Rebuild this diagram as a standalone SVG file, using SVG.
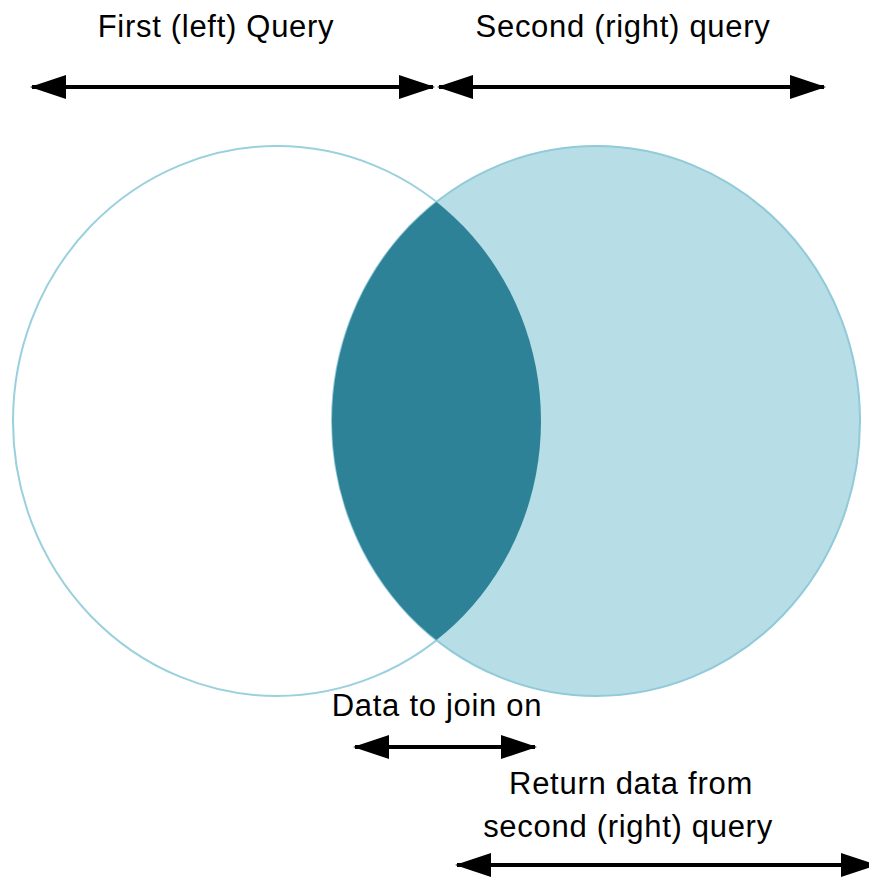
<svg xmlns="http://www.w3.org/2000/svg" width="869" height="877" viewBox="0 0 869 877">
<style>
.lbl{font-family:"Liberation Sans",Arial,sans-serif;font-size:31px;letter-spacing:0.7px;fill:#000;text-anchor:middle}
.arr{stroke:#000;stroke-width:4;fill:none;marker-start:url(#ah);marker-end:url(#ah)}
</style>
<defs>
<marker id="ah" markerUnits="userSpaceOnUse" viewBox="0 0 36 24" refX="34" refY="12" markerWidth="36" markerHeight="24" orient="auto-start-reverse">
<path d="M0,0 L36,12 L0,24 Z" fill="#000"/>
</marker>
<clipPath id="clipL"><ellipse cx="277" cy="421" rx="264" ry="275"/></clipPath>
</defs>
<rect width="869" height="877" fill="#fff"/>
<g id="left-set">
<ellipse cx="277" cy="421" rx="264" ry="275" fill="#fff" stroke="#9bd0dd" stroke-width="2"/>
</g>
<g id="right-set">
<ellipse cx="596" cy="421" rx="264" ry="275" fill="#b7dde6" stroke="#91cad8" stroke-width="2"/>
</g>
<g id="intersection">
<ellipse cx="596" cy="421" rx="264" ry="275" fill="#2e8297" clip-path="url(#clipL)"/>
</g>
<g id="connectors">
<line class="arr" x1="32" y1="87" x2="433" y2="87"/>
<line class="arr" x1="439" y1="87" x2="824" y2="87"/>
<line class="arr" x1="355" y1="747" x2="535" y2="747"/>
<line class="arr" x1="457" y1="865" x2="875" y2="865"/>
</g>
<g id="labels">
<text class="lbl" x="216" y="37">First (left) Query</text>
<text class="lbl" x="623" y="37">Second (right) query</text>
<text class="lbl" x="437" y="716">Data to join on</text>
<text class="lbl" x="631" y="794">Return data from</text>
<text class="lbl" x="628" y="837">second (right) query</text>
</g>
</svg>
